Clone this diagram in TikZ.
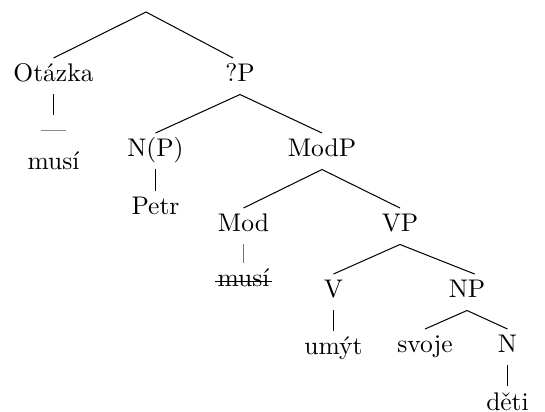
\documentclass[tikz,border=0pt]{standalone}
\usepackage{fontspec}
\begin{document}
\begin{tikzpicture}[x=0.3922pt,y=-0.3922pt,
  cat/.style={anchor=base, inner xsep=1pt, inner ysep=2.3pt,
              text height=6.9pt, text depth=2.4pt},
  branch/.style={draw=black, line width=0.4pt},
  movedbranch/.style={draw=black!55, line width=0.4pt},
  strike/.style={draw=black, line width=0.45pt},
  tracemark/.style={inner xsep=0pt, inner ysep=5.8pt}]
\useasboundingbox (0,0) rectangle (545,412);

% tree nodes
\coordinate (root) at (146,12);
\node[cat] (otazka) at (53.5,82) {Otázka};
\node[cat] (qp) at (240,82) {?P};
\node[tracemark] (trace) at (53.5,131) {\textcolor{black!45}{\rule[0.2pt]{10pt}{0.5pt}}};
\node[cat] (musiA) at (53.5,170) {musí};
\node[cat] (np1) at (155.5,157) {N(P)};
\node[cat] (modp) at (322,157) {ModP};
\node[cat] (petr) at (155.5,215) {Petr};
\node[cat] (mod) at (243.5,232) {Mod};
\node[cat] (vp) at (400,232) {VP};
\node[cat] (musiB) at (243.5,287) {musí};
\node[cat] (v) at (333.5,298) {V};
\node[cat] (np) at (467,298) {NP};
\node[cat] (umyt) at (333.5,355) {umýt};
\node[cat] (svoje) at (425,353) {svoje};
\node[cat] (n) at (507.5,353) {N};
\node[cat] (deti) at (507.5,410) {děti};

% struck-out copy of the modal
\draw[strike] ([yshift=2.2pt]musiB.base west) -- ([yshift=2.2pt]musiB.base east);

% branches
\draw[branch] (otazka.north) -- (root) -- ([xshift=-2.7pt]qp.north);
\draw[branch] (otazka.south) -- (trace.north);
\draw[branch] (np1.north) -- (qp.south) -- (modp.north);
\draw[branch] (np1.south) -- (petr.north);
\draw[branch] (mod.north) -- (modp.south) -- (vp.north);
\draw[movedbranch] (mod.south) -- (musiB.north);
\draw[branch] (v.north) -- (vp.south) -- ([xshift=3pt]np.north);
\draw[branch] (v.south) -- (umyt.north);
\draw[branch] (svoje.north) -- (np.south) -- (n.north);
\draw[branch] (n.south) -- (deti.north);
\end{tikzpicture}
\end{document}
